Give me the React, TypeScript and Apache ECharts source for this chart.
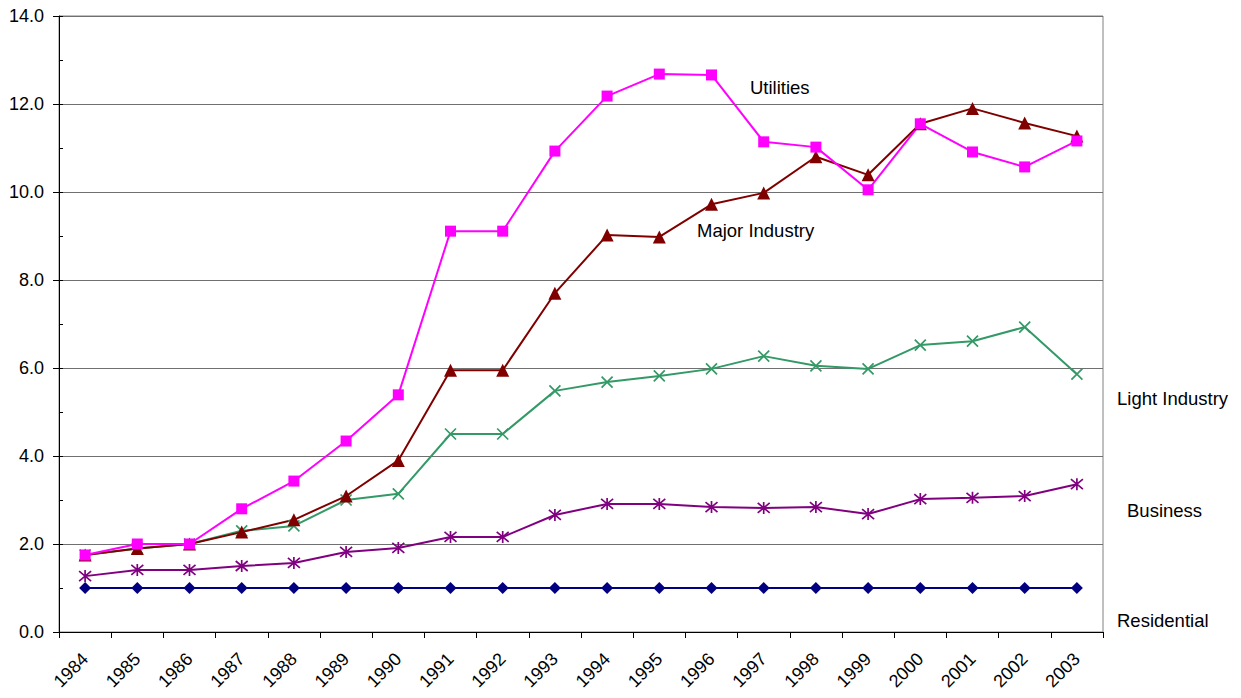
import React, { useEffect, useRef } from "react";
import * as echarts from "echarts";

const years = ["1984","1985","1986","1987","1988","1989","1990","1991","1992","1993","1994","1995","1996","1997","1998","1999","2000","2001","2002","2003"];
const utilities = [1.75,2.0,2.0,2.8,3.43,4.34,5.39,9.11,9.11,10.93,12.18,12.68,12.66,11.14,11.02,10.05,11.55,10.91,10.57,11.16];
const majorIndustry = [1.75,1.9,2.0,2.27,2.55,3.09,3.9,5.95,5.95,7.7,9.02,8.98,9.72,9.98,10.8,10.39,11.55,11.9,11.57,11.27];
const lightIndustry = [1.75,1.9,2.0,2.3,2.41,3.0,3.14,4.5,4.5,5.48,5.68,5.82,5.98,6.27,6.05,5.98,6.52,6.61,6.93,5.86];
const business = [1.27,1.41,1.41,1.5,1.57,1.82,1.91,2.16,2.16,2.66,2.91,2.91,2.84,2.82,2.84,2.68,3.02,3.05,3.09,3.36];
const residential = [1,1,1,1,1,1,1,1,1,1,1,1,1,1,1,1,1,1,1,1];

const FONT = "'Liberation Sans', Arial, sans-serif";

export default function App() {
  const ref = useRef<HTMLDivElement>(null);
  useEffect(() => {
    if (!ref.current) return;
    const chart = echarts.init(ref.current, null, { renderer: "svg" });
    const line = (name: string, data: number[], color: string, symbol: string, size: number, hollow = false) => ({
      name,
      type: "line",
      data,
      symbol,
      symbolSize: size,
      showSymbol: true,
      lineStyle: { color, width: 2 },
      itemStyle: hollow
        ? { color: "none", borderColor: color, borderWidth: 1.7 }
        : { color, borderWidth: 0 },
      emphasis: { disabled: true },
      z: 3,
    });
    const txt = (x: number, y: number, text: string) => ({
      type: "text", x, y,
      style: { text, font: `18.5px ${FONT}`, fill: "#000", textVerticalAlign: "middle" },
    });
    chart.setOption({
      animation: false,
      textStyle: { fontFamily: FONT },
      grid: {
        left: 59, right: 138, top: 16, bottom: 66,
        show: true, borderColor: "#808080", borderWidth: 1, backgroundColor: "transparent",
      },
      xAxis: {
        type: "category",
        data: years,
        boundaryGap: true,
        axisLine: { lineStyle: { color: "#000", width: 1 } },
        axisTick: { show: true, length: 6, lineStyle: { color: "#000" } },
        axisLabel: { rotate: 45, fontSize: 18, color: "#000", fontFamily: FONT, margin: 24, interval: 0 },
      },
      yAxis: [
        {
          type: "value",
          min: 0, max: 14, interval: 2,
          axisLine: { show: true, lineStyle: { color: "#000", width: 1 } },
          axisTick: { show: true, length: 6, lineStyle: { color: "#000" } },
          axisLabel: { fontSize: 18, color: "#000", fontFamily: FONT, margin: 15, formatter: (v: number) => v.toFixed(1) },
          splitLine: { show: true, lineStyle: { color: "#707070", width: 1 } },
        },
        {
          type: "value",
          position: "left",
          min: 0, max: 14, interval: 1,
          axisLine: { show: false },
          axisTick: { show: true, inside: true, length: 4, lineStyle: { color: "#000" } },
          axisLabel: { show: false },
          splitLine: { show: false },
        },
      ],
      series: [
        line("Residential", residential, "#000080", "diamond", 12),
        line("Business", business, "#800080", "path://M0,0L10,10M10,0L0,10M5,-1L5,11", 12, true),
        line("Light Industry", lightIndustry, "#339966", "path://M0,0L10,10M10,0L0,10", 11, true),
        line("Major Industry", majorIndustry, "#800000", "triangle", 13),
        line("Utilities", utilities, "#FF00FF", "rect", 11),
      ],
      graphic: [
        txt(750, 87, "Utilities"),
        txt(697, 230, "Major Industry"),
        txt(1117, 398, "Light Industry"),
        txt(1127, 510, "Business"),
        txt(1117, 620, "Residential"),
      ],
    });
    return () => chart.dispose();
  }, []);
  return <div ref={ref} style={{ position: "fixed", left: 0, top: 0, width: 1241, height: 698, background: "#fff" }} />;
}
